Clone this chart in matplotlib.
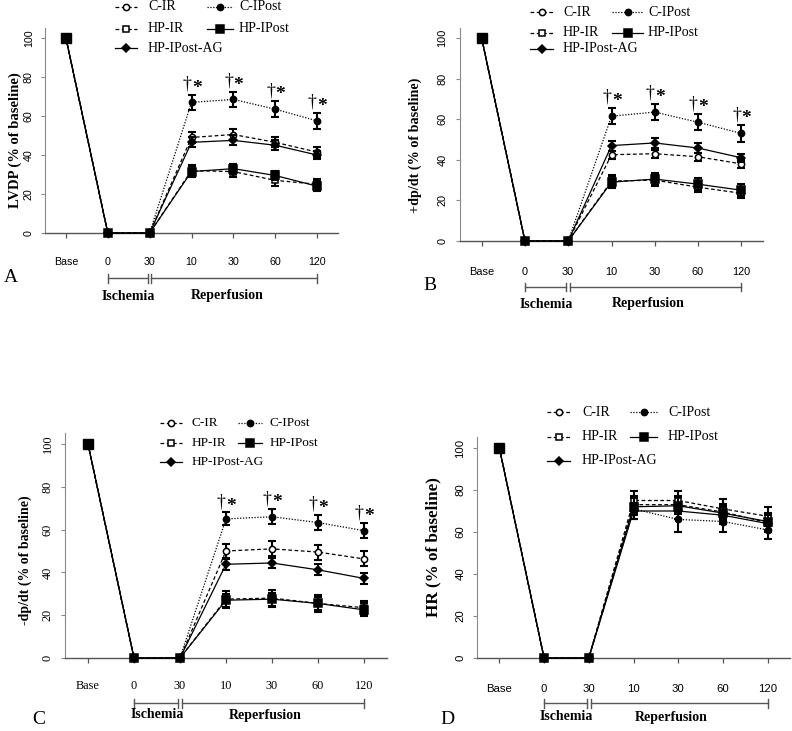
import matplotlib
matplotlib.use('Agg')
import matplotlib.pyplot as plt
import matplotlib.transforms as mtransforms
from matplotlib.lines import Line2D
import numpy as np

W, H = 792, 731
SERIF = ['Liberation Serif', 'DejaVu Serif']
SANS = ['Liberation Sans', 'DejaVu Sans']

# ---------------- data ----------------
x_labels = ['Base', '0', '30', '10', '30', '60', '120']
yticks = [0, 20, 40, 60, 80, 100]
series_names = ['C-IR', 'C-IPost', 'HP-IR', 'HP-IPost', 'HP-IPost-AG']

# Panel A: LVDP (% of baseline)
lvdp_c_ir        = [100, 0, 0, 49.0, 50.5, 46.5, 41.5]
lvdp_c_ir_err    = [0, 0, 0, 3.0, 3.0, 2.5, 2.5]
lvdp_c_ipost     = [100, 0, 0, 67.0, 68.5, 63.5, 57.5]
lvdp_c_ipost_err = [0, 0, 0, 4.0, 4.0, 4.0, 4.0]
lvdp_hp_ir       = [100, 0, 0, 32.0, 31.5, 27.0, 25.0]
lvdp_hp_ir_err   = [0, 0, 0, 3.0, 3.0, 3.0, 2.5]
lvdp_hp_ipost    = [100, 0, 0, 31.5, 33.0, 29.5, 24.0]
lvdp_hp_ipost_err = [0, 0, 0, 3.0, 2.5, 2.5, 2.5]
lvdp_hp_ag       = [100, 0, 0, 46.5, 47.5, 45.0, 40.0]
lvdp_hp_ag_err   = [0, 0, 0, 2.5, 2.5, 2.5, 2.0]

# Panel B: +dp/dt (% of baseline)
pdp_c_ir        = [100, 0, 0, 42.5, 43.0, 41.5, 38.0]
pdp_c_ir_err    = [0, 0, 0, 2.0, 2.0, 2.0, 2.0]
pdp_c_ipost     = [100, 0, 0, 61.5, 63.5, 58.5, 53.0]
pdp_c_ipost_err = [0, 0, 0, 4.0, 4.0, 4.0, 4.0]
pdp_hp_ir       = [100, 0, 0, 29.5, 30.0, 26.5, 23.5]
pdp_hp_ir_err   = [0, 0, 0, 3.0, 3.0, 2.5, 2.5]
pdp_hp_ipost    = [100, 0, 0, 29.0, 30.5, 28.0, 25.0]
pdp_hp_ipost_err = [0, 0, 0, 3.0, 3.0, 3.0, 3.0]
pdp_hp_ag       = [100, 0, 0, 47.0, 48.3, 45.8, 41.0]
pdp_hp_ag_err   = [0, 0, 0, 2.5, 2.5, 2.5, 2.0]

# Panel C: -dp/dt (% of baseline)
ndp_c_ir        = [100, 0, 0, 50.0, 51.0, 49.5, 46.3]
ndp_c_ir_err    = [0, 0, 0, 3.5, 3.5, 3.5, 3.5]
ndp_c_ipost     = [100, 0, 0, 65.0, 66.0, 63.3, 59.5]
ndp_c_ipost_err = [0, 0, 0, 3.0, 3.5, 3.5, 3.5]
ndp_hp_ir       = [100, 0, 0, 27.5, 28.0, 25.5, 23.5]
ndp_hp_ir_err   = [0, 0, 0, 4.0, 4.0, 4.0, 3.0]
ndp_hp_ipost    = [100, 0, 0, 27.0, 27.5, 25.5, 22.5]
ndp_hp_ipost_err = [0, 0, 0, 3.0, 3.0, 3.0, 3.0]
ndp_hp_ag       = [100, 0, 0, 43.8, 44.4, 41.2, 37.2]
ndp_hp_ag_err   = [0, 0, 0, 2.5, 2.5, 2.5, 2.5]

# Panel D: HR (% of baseline)
hr_c_ir        = [100, 0, 0, 73.0, 73.0, 69.5, 64.5]
hr_c_ir_err    = [0, 0, 0, 4.0, 4.0, 4.0, 4.0]
hr_c_ipost     = [100, 0, 0, 71.0, 66.0, 65.0, 61.0]
hr_c_ipost_err = [0, 0, 0, 5.0, 6.0, 5.0, 4.5]
hr_hp_ir       = [100, 0, 0, 75.0, 75.0, 71.0, 67.5]
hr_hp_ir_err   = [0, 0, 0, 4.5, 4.5, 4.5, 4.5]
hr_hp_ipost    = [100, 0, 0, 72.0, 72.5, 69.0, 65.0]
hr_hp_ipost_err = [0, 0, 0, 4.0, 4.0, 4.0, 4.0]
hr_hp_ag       = [100, 0, 0, 70.0, 70.0, 68.0, 64.0]
hr_hp_ag_err   = [0, 0, 0, 4.0, 4.0, 4.0, 4.0]

panel_data = {
    'A': [(lvdp_c_ir, lvdp_c_ir_err), (lvdp_c_ipost, lvdp_c_ipost_err), (lvdp_hp_ir, lvdp_hp_ir_err),
          (lvdp_hp_ipost, lvdp_hp_ipost_err), (lvdp_hp_ag, lvdp_hp_ag_err)],
    'B': [(pdp_c_ir, pdp_c_ir_err), (pdp_c_ipost, pdp_c_ipost_err), (pdp_hp_ir, pdp_hp_ir_err),
          (pdp_hp_ipost, pdp_hp_ipost_err), (pdp_hp_ag, pdp_hp_ag_err)],
    'C': [(ndp_c_ir, ndp_c_ir_err), (ndp_c_ipost, ndp_c_ipost_err), (ndp_hp_ir, ndp_hp_ir_err),
          (ndp_hp_ipost, ndp_hp_ipost_err), (ndp_hp_ag, ndp_hp_ag_err)],
    'D': [(hr_c_ir, hr_c_ir_err), (hr_c_ipost, hr_c_ipost_err), (hr_hp_ir, hr_hp_ir_err),
          (hr_hp_ipost, hr_hp_ipost_err), (hr_hp_ag, hr_hp_ag_err)],
}
ylabels = {'A': 'LVDP (% of baseline)', 'B': '+dp/dt (% of baseline)',
           'C': '-dp/dt (% of baseline)', 'D': 'HR (% of baseline)'}
signif_panels = ['A', 'B', 'C']

# ---------------- styles ----------------
styles = {
    'C-IR':        dict(ls=(0, (3, 2)), marker='o', mfc='white', ms=4.5, z=3),
    'C-IPost':     dict(ls=(0, (1, 1.3)), marker='o', mfc='black', ms=4.5, z=4),
    'HP-IR':       dict(ls=(0, (3, 2)), marker='s', mfc='white', ms=5, z=5),
    'HP-IPost':    dict(ls='-', marker='s', mfc='black', ms=5.5, z=7),
    'HP-IPost-AG': dict(ls='-', marker='D', mfc='black', ms=3.8, z=6),
}
draw_order = ['C-IR', 'C-IPost', 'HP-IR', 'HP-IPost-AG', 'HP-IPost']

# layout in pixels
layout = {
    'A': dict(L=45, R=338, y0=233, y100=38, xpad=13.5, ypad=5.0, tickfont=SANS, tfs=7.7,
              bracket=278, blab=296, letter=(4, 277), ylab=(15, 140), ylfs=10.5,
              leg1=(115, 137, 148), leg2=(207, 233, 239), rows=(7, 29, 48), lfs=10),
    'B': dict(L=460, R=763, y0=241, y100=38, xpad=15, ypad=6.0, tickfont=SANS, tfs=7.9,
              bracket=287, blab=304, letter=(423, 285), ylab=(415, 145), ylfs=10.2,
              leg1=(530, 553, 563), leg2=(612, 643, 648), rows=(12, 33, 49), lfs=10),
    'C': dict(L=65, R=387, y0=658, y100=444, xpad=12.5, ypad=5.0, tickfont=SERIF, tfs=8.8,
              bracket=703, blab=715, letter=(32, 720), ylab=(25, 560), ylfs=10,
              leg1=(160, 182, 192), leg2=(238, 262, 270), rows=(423, 443, 462), lfs=9.5),
    'D': dict(L=477, R=790, y0=658, y100=448, xpad=15, ypad=5.5, tickfont=SANS, tfs=8.2,
              bracket=703, blab=717, letter=(440, 720), ylab=(433, 547), ylfs=12.3,
              leg1=(547, 570, 582), leg2=(630, 657, 668), rows=(412, 437, 461), lfs=10),
}

fig = plt.figure(figsize=(W / 100, H / 100), dpi=100)
fig.patch.set_facecolor('white')


def fx(px):
    return px / W


def fy(py):
    return 1 - py / H


xpos = np.arange(len(x_labels))
AXC = '#555555'
YAXC = '#8a8a8a'

for key in ['A', 'B', 'C', 'D']:
    lay = layout[key]
    s = (lay['y0'] - lay['y100']) / 100.0
    ymax = 105
    ax = fig.add_axes([fx(lay['L']), fy(lay['y0']), (lay['R'] - lay['L']) / W, ymax * s / H])
    ax.set_xlim(-0.5, 6.5)
    ax.set_ylim(0, ymax)
    for sp in ['top', 'right']:
        ax.spines[sp].set_visible(False)
    ax.spines['bottom'].set_color(AXC)
    ax.spines['bottom'].set_linewidth(1.0)
    ax.spines['left'].set_color(YAXC)
    ax.spines['left'].set_linewidth(0.8)
    ax.set_xticks(xpos)
    ax.set_xticklabels(x_labels, family=lay['tickfont'], fontsize=lay['tfs'])
    ax.set_yticks(yticks)
    ax.set_yticklabels([str(v) for v in yticks], family=lay['tickfont'], fontsize=lay['tfs'],
                       rotation=90, va='center')
    ax.tick_params(axis='x', length=3.5, width=0.9, color=AXC, pad=lay['xpad'])
    ax.tick_params(axis='y', length=3.0, width=0.8, color=YAXC, pad=lay['ypad'])

    data = dict(zip(series_names, panel_data[key]))
    for name in draw_order:
        vals, err = data[name]
        st = styles[name]
        vals = np.array(vals, dtype=float)
        err = np.array(err, dtype=float)
        ax.plot(xpos, vals, color='black', lw=0.9, ls=st['ls'], marker=st['marker'],
                mfc=st['mfc'], mec='black', mew=1.1, ms=st['ms'], zorder=st['z'], clip_on=False)
        m = err > 0
        ax.errorbar(xpos[m], vals[m], yerr=err[m], fmt='none', ecolor='black', elinewidth=1.5,
                    capsize=2.6, capthick=1.5, zorder=st['z'] - 0.5, clip_on=False)
    # larger baseline square
    base_vals = data['HP-IPost'][0]
    ax.plot(xpos[:1], base_vals[:1], ls='none', marker='s', ms=6.8, color='black', zorder=8,
            clip_on=False)

    if key in signif_panels:
        vals, err = data['C-IPost']
        for i in range(3, 7):
            top = vals[i] + err[i]
            ax.annotate('\u2020', (xpos[i], top), xytext=(-0.2, 1.5),
                        textcoords='offset points', ha='right', va='bottom',
                        family=SERIF, fontsize=13, zorder=9)
            ax.annotate('*', (xpos[i], top), xytext=(0.2, -1.5),
                        textcoords='offset points', ha='left', va='bottom',
                        family=SERIF, fontsize=14, fontweight='bold', zorder=9)

    # bracket (Ischemia / Reperfusion)
    tr = mtransforms.blended_transform_factory(ax.transData, fig.transFigure)
    by = fy(lay['bracket'])
    th = 4.5 / H
    segs = [(1, 2 - 0.04), (2 + 0.04, 6)]
    for a, b in segs:
        fig.add_artist(Line2D([a, b], [by, by], transform=tr, color=AXC, lw=1.0))
        for xx in (a, b):
            fig.add_artist(Line2D([xx, xx], [by - th, by + th], transform=tr, color=AXC, lw=1.0))
    fig.text(1.5, fy(lay['blab']), 'Ischemia', transform=tr, ha='center', va='center',
             family=SERIF, fontsize=10, fontweight='bold')
    fig.text(3.85, fy(lay['blab']), 'Reperfusion', transform=tr, ha='center', va='center',
             family=SERIF, fontsize=10, fontweight='bold')

    # panel letter
    fig.text(fx(lay['letter'][0]), fy(lay['letter'][1]), key, ha='left', va='center',
             family=SERIF, fontsize=14)
    # y label
    fig.text(fx(lay['ylab'][0]), fy(lay['ylab'][1]), ylabels[key], rotation=90, ha='center',
             va='center', family=SERIF, fontsize=lay['ylfs'], fontweight='bold')

    # legend (manual, two overlapping columns as in the original)
    col1 = ['C-IR', 'HP-IR', 'HP-IPost-AG']
    col2 = ['C-IPost', 'HP-IPost']
    for col, spec in ((col1, lay['leg1']), (col2, lay['leg2'])):
        x0, x1, tx = spec
        for r, name in enumerate(col):
            st = styles[name]
            yy = fy(lay['rows'][r])
            fig.add_artist(Line2D([fx(x0), fx(x1)], [yy, yy], transform=fig.transFigure,
                                  color='black', lw=0.9, ls=st['ls']))
            fig.add_artist(Line2D([fx((x0 + x1) / 2)], [yy], transform=fig.transFigure,
                                  ls='none', marker=st['marker'], mfc=st['mfc'], mec='black',
                                  mew=1.1, ms=st['ms']))
            fig.text(fx(tx), yy, name, ha='left', va='center', family=SERIF, fontsize=lay['lfs'])

fig.savefig('out.png', dpi=100, facecolor='white')
